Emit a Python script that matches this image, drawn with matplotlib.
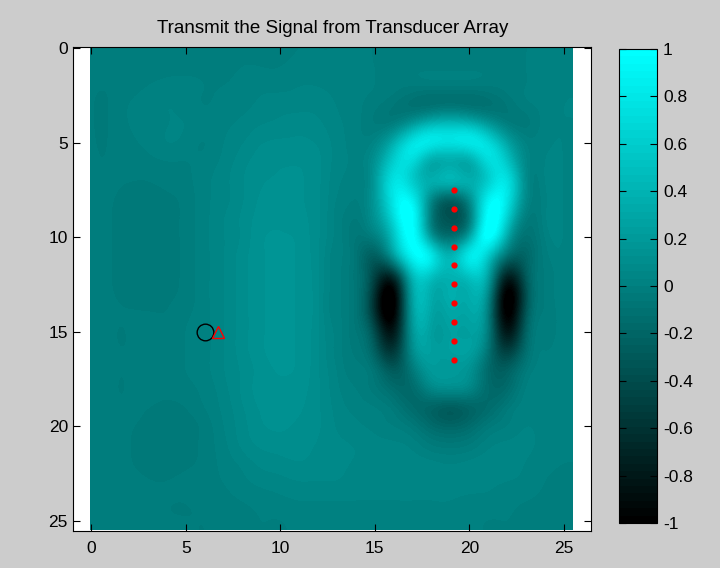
import numpy as np
import matplotlib
matplotlib.use("Agg")
import matplotlib.pyplot as plt
from matplotlib.colors import LinearSegmentedColormap
from matplotlib.patches import Rectangle
from matplotlib.ticker import FuncFormatter

field = [
    [-3, -3, -3, -3, -2, -2, -2, -2, -1, -1, -1, 0, 0, 0, 0, 0, 0, 0, 0, 0, 0, 0, 0, 0, 0, 0],
    [-3, -3, -3, -2, -1, -1, -1, -1, 0, 0, 0, 1, 1, 1, 1, 0, -1, -1, -1, -1, -1, -1, -1, 0, 1, 1],
    [-3, -3, -2, 0, 1, 1, 0, 0, 1, 2, 2, 3, 3, 2, 1, 0, -2, -3, -3, -3, -3, -3, -2, 0, 1, 2],
    [-3, -3, 0, 2, 3, 2, 0, 1, 2, 4, 5, 5, 5, 3, 1, -2, -6, -10, -10, -8, -10, -10, -6, -1, 1, 3],
    [-3, -3, 0, 2, 3, 3, 1, 2, 4, 6, 7, 8, 7, 4, 1, -3, 0, 20, 40, 45, 40, 20, 0, -4, 1, 3],
    [-3, -3, -1, 1, 3, 2, 0, 3, 6, 9, 10, 10, 9, 5, 1, 5, 35, 75, 80, 75, 80, 70, 30, 3, 2, 3],
    [-3, -3, -2, -1, 0, 0, 1, 4, 8, 11, 12, 12, 10, 5, 2, 15, 60, 70, 35, 35, 35, 70, 55, 8, 3, 3],
    [-3, -3, -3, -3, -2, -1, 2, 5, 9, 12, 13, 13, 10, 4, 1, 20, 75, 60, 35, 40, 35, 60, 75, 12, 3, 3],
    [-3, -3, -4, -5, -4, -2, 2, 5, 9, 13, 14, 13, 10, 3, 0, 20, 80, 85, 10, -20, 10, 85, 80, 10, 2, 3],
    [-3, -3, -5, -6, -5, -2, 2, 6, 10, 14, 15, 14, 10, 2, -3, 15, 70, 100, 0, -35, -5, 100, 65, 0, 2, 3],
    [-3, -3, -5, -6, -5, -2, 2, 6, 10, 15, 16, 15, 10, 2, -6, 0, 50, 100, 25, -10, 30, 100, 35, -10, 0, 3],
    [-3, -3, -5, -6, -5, -2, 2, 6, 11, 15, 17, 15, 10, 1, -8, -25, 20, 90, 80, 40, 80, 60, -10, -20, -2, 2],
    [-3, -3, -5, -6, -5, -2, 2, 6, 11, 15, 17, 15, 10, 1, -8, -45, -55, 45, 55, 40, 55, 30, -65, -30, -3, 2],
    [-3, -3, -4, -5, -4, -2, 2, 6, 11, 15, 17, 15, 10, 1, -8, -60, -100, 25, 35, 35, 35, 10, -100, -40, -3, 2],
    [-3, -3, -3, -3, -3, -1, 2, 6, 11, 15, 17, 15, 10, 1, -8, -60, -100, 20, 30, 30, 30, 0, -100, -35, -3, 2],
    [-3, -3, -3, -2, -2, 0, 2, 6, 11, 15, 17, 15, 10, 2, -6, -40, -80, 15, 25, 25, 25, -2, -80, -25, -2, 2],
    [-3, -3, -3, -2, -1, 0, 2, 6, 11, 15, 17, 15, 10, 2, -4, -25, -55, 8, 25, 25, 25, -8, -50, -15, 0, 2],
    [-3, -3, -3, -2, -1, 0, 2, 6, 10, 14, 16, 15, 10, 3, -2, -10, -30, -5, 20, 20, 15, -15, -25, -5, 1, 2],
    [-3, -3, -3, -2, -2, -1, 1, 5, 10, 14, 15, 14, 10, 4, 0, -5, -15, -15, 5, 10, 5, -15, -15, 0, 2, 2],
    [-3, -3, -3, -3, -4, -3, 0, 4, 9, 13, 14, 13, 10, 5, 2, 0, -5, -15, -20, -25, -20, -15, -5, 2, 2, 2],
    [-3, -3, -3, -4, -6, -5, -2, 3, 8, 12, 13, 12, 10, 6, 4, 2, 0, -5, -15, -20, -15, -5, 0, 3, 2, 2],
    [-3, -3, -3, -5, -6, -5, -2, 2, 7, 10, 11, 11, 9, 7, 6, 5, 4, 2, -3, -5, -3, 2, 4, 4, 2, 1],
    [-3, -3, -3, -4, -5, -4, -2, 1, 4, 7, 8, 9, 8, 7, 6, 6, 6, 5, 4, 3, 4, 5, 5, 3, 1, 0],
    [-3, -3, -3, -3, -3, -2, -1, 0, 2, 4, 5, 6, 6, 6, 5, 5, 5, 5, 5, 5, 5, 4, 3, 2, 0, -1],
    [-3, -3, -3, -3, -3, -3, -2, -1, 0, 1, 2, 3, 3, 3, 3, 3, 3, 3, 3, 3, 2, 2, 1, 0, -1, -2],
    [-3, -3, -3, -3, -3, -3, -3, -2, -1, 0, 0, 1, 1, 1, 1, 1, 1, 1, 1, 1, 1, 0, 0, -1, -2, -2],
]

# transducer elements
array_x = [19.2] * 10
array_y = [7.5, 8.5, 9.5, 10.5, 11.5, 12.5, 13.5, 14.5, 15.5, 16.5]
# target (circle) and receiver (triangle)
target_xy = (6.0, 15.0)
receiver_xy = (6.7, 15.0)

cbar_ticks = [-1, -0.8, -0.6, -0.4, -0.2, 0, 0.2, 0.4, 0.6, 0.8, 1]
axis_ticks = [0, 5, 10, 15, 20, 25]

plt.rcParams['font.family'] = ['Liberation Sans', 'DejaVu Sans']
plt.rcParams['font.size'] = 12.5

cmap = LinearSegmentedColormap.from_list('blackcyan', [(0, 0, 0), (0, 1, 1)], N=64)

fig = plt.figure(figsize=(7.2, 5.68), dpi=100, facecolor=(0.8, 0.8, 0.8))
ax = fig.add_axes([0.102, 0.065, 0.719, 0.852])

data = np.array(field) / 100.0
im = ax.imshow(data, cmap=cmap, vmin=-1, vmax=1, interpolation='lanczos',
               extent=(-0.5, 25.5, 25.5, -0.5), aspect='equal')
im.set_clip_path(Rectangle((-0.05, -0.05), 25.6, 25.6, transform=ax.transData))

ax.plot(array_x, array_y, 'o', color='red', markersize=4.5, markeredgewidth=0)
ax.plot(*target_xy, 'o', markerfacecolor='none', markeredgecolor='black',
        markersize=12, markeredgewidth=1)
ax.plot(*receiver_xy, '^', markerfacecolor='none', markeredgecolor='red',
        markersize=8, markeredgewidth=1)

ax.set_facecolor('white')
ax.set_xlim(-0.95, 26.45)
ax.set_ylim(25.55, -0.05)
ax.set_xticks(axis_ticks)
ax.set_yticks(axis_ticks)
ax.tick_params(direction='in', top=True, right=True, length=5, width=0.8)
ax.tick_params(axis='x', pad=7)
ax.tick_params(axis='y', pad=4)
ax.set_title('Transmit the Signal from Transducer Array', fontsize=13.5, pad=10.5)

cax = fig.add_axes([0.860, 0.079, 0.053, 0.835])
cb = fig.colorbar(im, cax=cax, ticks=cbar_ticks)
cb.outline.set_linewidth(0.8)
cax.tick_params(direction='in', left=True, right=True, length=5, width=0.8, pad=4)
cax.yaxis.set_major_formatter(FuncFormatter(lambda v, p: '%g' % round(v, 1)))

fig.savefig('out.png', dpi=100, facecolor=fig.get_facecolor())
